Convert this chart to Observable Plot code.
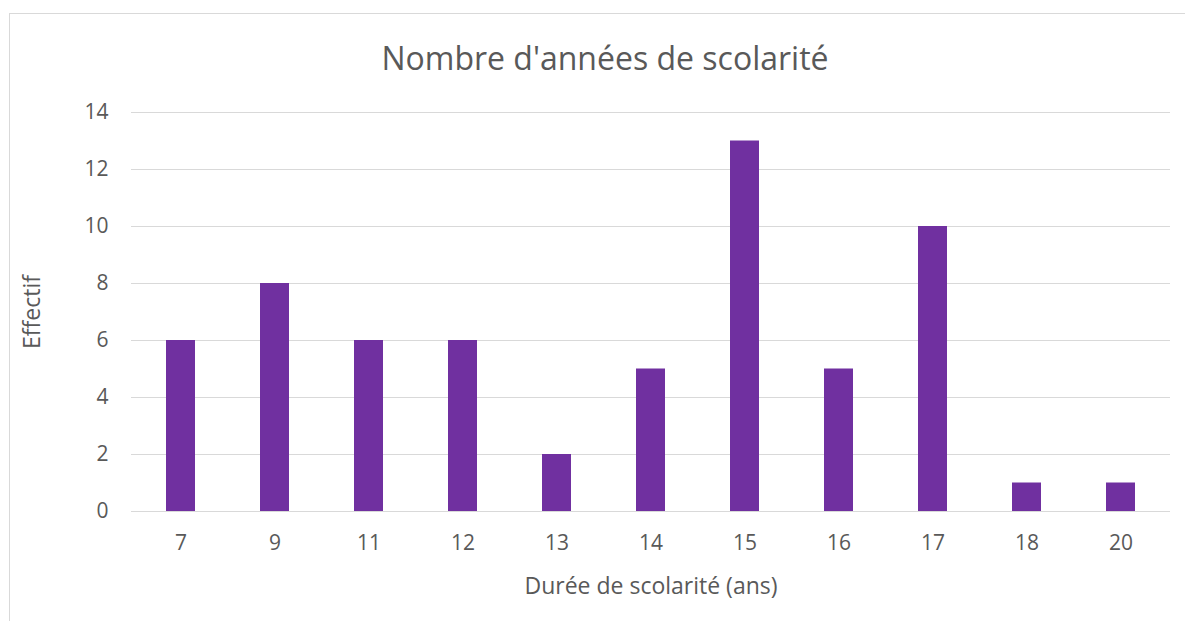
<!DOCTYPE html>
<html>
<head>
<meta charset="utf-8">
<script src="https://cdn.jsdelivr.net/npm/d3@7"></script>
<script src="https://cdn.jsdelivr.net/npm/@observablehq/plot@0.6"></script>
<style>
  body { margin: 0; background: #fff; font-family: "Open Sans", sans-serif; }
  #wrap { position: relative; width: 1185px; height: 621px; overflow: hidden; }
  #frame { position: absolute; left: 9px; top: 13px; width: 1200px; height: 640px; border: 1px solid #d9d9d9; box-sizing: border-box; }
  #title { position: absolute; left: 0; top: 38px; width: 1210px; text-align: center; font-size: 32px; color: #595959; line-height: 40px; }
  #chart { position: absolute; left: 0; top: 0; }
</style>
</head>
<body>
<div id="wrap">
  <div id="frame"></div>
  <div id="title">Nombre d'années de scolarité</div>
  <div id="chart"></div>
</div>
<script>
const durees = ["7", "9", "11", "12", "13", "14", "15", "16", "17", "18", "20"];
const effectifs = [6, 8, 6, 6, 2, 5, 13, 5, 10, 1, 1];
const yTicks = [0, 2, 4, 6, 8, 10, 12, 14];

const data = durees.map((d, i) => ({duree: d, effectif: effectifs[i]}));

const chart = Plot.plot({
  width: 1185,
  height: 621,
  marginTop: 112,
  marginBottom: 110,
  marginLeft: 131,
  marginRight: 15,
  style: { fontFamily: "'Open Sans', sans-serif", fontSize: "21px", color: "#595959", background: "transparent" },
  x: { domain: durees, paddingInner: 0.688, paddingOuter: 0.344, label: "Durée de scolarité (ans)" },
  y: { domain: [0, 14], ticks: yTicks, label: "Effectif" },
  marks: [
    Plot.gridY(yTicks, { stroke: "#d9d9d9", strokeOpacity: 1, strokeWidth: 1 }),
    Plot.barY(data, { x: "duree", y: "effectif", fill: "#7030A0" }),
    Plot.axisX({ tickSize: 0, tickPadding: 24, fontSize: 21, label: null }),
    Plot.axisX({ tickSize: 0, ticks: [], fontSize: 23, label: "Durée de scolarité (ans)", labelAnchor: "center", labelOffset: 82, labelArrow: "none" }),
    Plot.axisY(yTicks, { tickSize: 0, tickPadding: 23, fontSize: 21, label: null }),
    Plot.axisY([], { tickSize: 0, fontSize: 23, label: "Effectif", labelAnchor: "center", labelOffset: 108, labelArrow: "none" })
  ]
});
document.getElementById("chart").appendChild(chart);
</script>
</body>
</html>
